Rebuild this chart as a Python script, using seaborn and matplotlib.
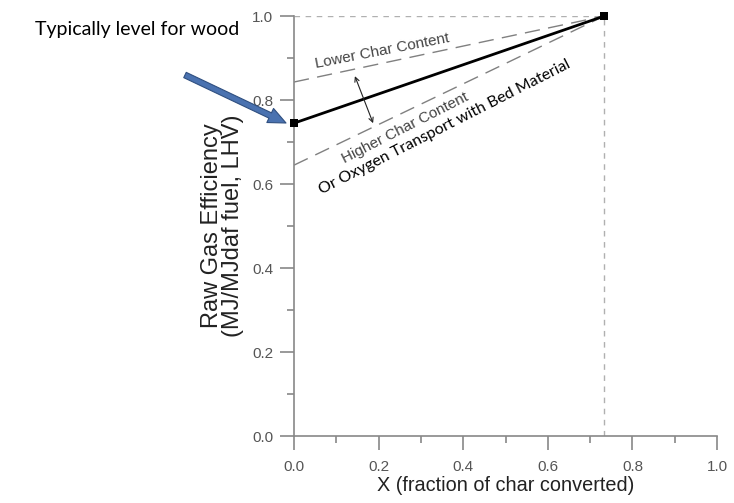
import matplotlib
matplotlib.use("Agg")
import matplotlib.pyplot as plt
from matplotlib.patches import FancyArrowPatch
from matplotlib.ticker import MultipleLocator
import seaborn as sns
import pandas as pd

# Char conversion end points and raw gas efficiencies
x_conv = [0.0, 0.733]
eff_base = [0.745, 1.0]
eff_lower_char = [0.843, 1.0]
eff_higher_char = [0.645, 1.0]

x_ticks = [0.0, 0.2, 0.4, 0.6, 0.8, 1.0]
y_ticks = [0.0, 0.2, 0.4, 0.6, 0.8, 1.0]

sns.set_theme(style="white")
plt.rcParams["font.family"] = ["Liberation Sans", "DejaVu Sans"]

fig = plt.figure(figsize=(7.34, 5.03), dpi=100)
ax = fig.add_axes([0.4005, 0.1332, 0.977 - 0.4005, 0.968 - 0.1332])

base = pd.DataFrame({"x": x_conv, "y": eff_base})
lower = pd.DataFrame({"x": x_conv, "y": eff_lower_char})
higher = pd.DataFrame({"x": x_conv, "y": eff_higher_char})

# reference guides at full conversion
ax.plot([0, x_conv[1]], [1.0, 1.0], color="#b0b0b0", lw=1.0, dashes=(4, 4), zorder=1)
ax.plot([x_conv[1], x_conv[1]], [0, 1.0], color="#b0b0b0", lw=1.0, dashes=(4, 4), zorder=1)

for df in (lower, higher):
    sns.lineplot(data=df, x="x", y="y", ax=ax, color="#808080", lw=1.0,
                 zorder=2).lines[-1].set_dashes((11, 6))

sns.lineplot(data=base, x="x", y="y", ax=ax, color="black", lw=2.0, zorder=3)
sns.scatterplot(data=base, x="x", y="y", ax=ax, marker="s", color="black",
                s=40, linewidth=0, zorder=4, clip_on=False)

ax.set_xlim(0, 1.0)
ax.set_ylim(0, 1.0)
ax.set_xticks(x_ticks)
ax.set_yticks(y_ticks)
ax.set_xticklabels([f"{v:.1f}" for v in x_ticks])
ax.set_yticklabels([f"{v:.1f}" for v in y_ticks])
ax.xaxis.set_minor_locator(MultipleLocator(0.1))
ax.yaxis.set_minor_locator(MultipleLocator(0.1))

for side in ("top", "right"):
    ax.spines[side].set_visible(False)
for side in ("left", "bottom"):
    ax.spines[side].set_color("#888888")
    ax.spines[side].set_linewidth(1.2)

ax.tick_params(which="major", direction="out", length=10, width=1.2,
               color="#888888", labelcolor="#555555", labelsize=11,
               bottom=True, left=True)
ax.tick_params(axis="x", which="major", pad=7)
ax.tick_params(axis="y", which="major", pad=5)
ax.tick_params(which="minor", direction="out", length=5, width=1.2,
               color="#888888", bottom=True, left=True)

ax.set_xlabel("X (fraction of char converted)", fontsize=14.3, color="#222222", labelpad=2)
ax.set_ylabel("Raw Gas Efficiency\n(MJ/MJdaf fuel, LHV)", fontsize=17,
              color="#222222", labelpad=6, linespacing=0.95)

# curve annotations
ax.text(0.208, 0.917, "Lower Char Content", rotation=11, ha="center", va="center",
        fontsize=11, color="#444444")
ax.text(0.262, 0.733, "Higher Char Content", rotation=27, ha="center", va="center",
        fontsize=11, color="#444444")
ax.text(0.357, 0.736, "Or Oxygen Transport with Bed Material", rotation=27,
        ha="center", va="center", fontsize=11.5, color="black",
        family=["Lato", "DejaVu Sans"])
ax.annotate("", xy=(0.144, 0.857), xytext=(0.187, 0.745),
            arrowprops=dict(arrowstyle="<->", color="#222222", lw=0.8,
                            mutation_scale=8, shrinkA=0, shrinkB=0))

fig.text(35 / 734, 1 - 30 / 503, "Typically level for wood", ha="left", va="center",
         fontsize=14, color="black", family=["Lato", "DejaVu Sans"])
fig.patches.append(FancyArrowPatch(
    (185 / 734, 1 - 75 / 503), (286 / 734, 1 - 123 / 503),
    transform=fig.transFigure,
    arrowstyle="simple,head_width=1.6,head_length=1.8,tail_width=0.6",
    mutation_scale=7, facecolor="#4a72b0", edgecolor="#2f4f80", lw=0.8,
    shrinkA=0, shrinkB=0))

fig.savefig("out.png", dpi=100)
